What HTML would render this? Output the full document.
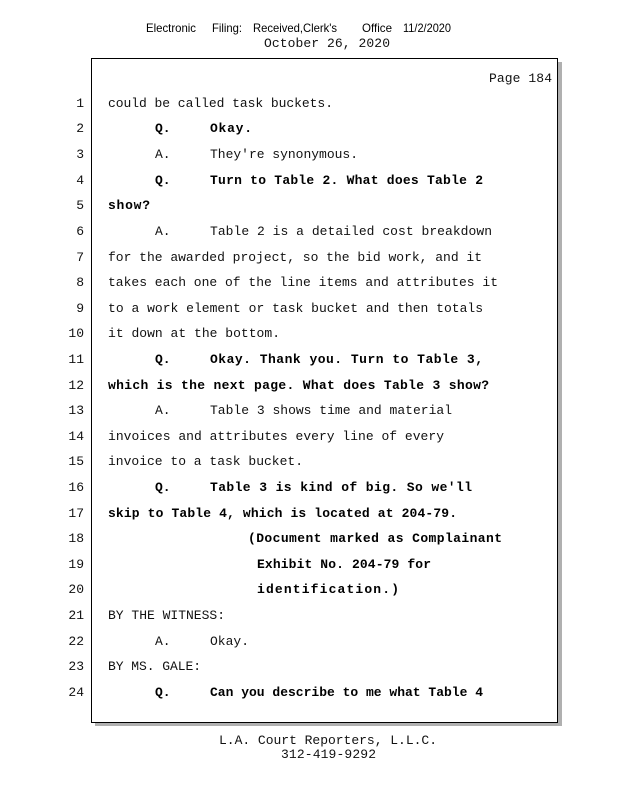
<!DOCTYPE html>
<html><head><meta charset="utf-8"><style>
html,body{margin:0;padding:0;background:#fff;}
body{width:618px;height:800px;position:relative;overflow:hidden;}
svg{position:absolute;left:0;top:0;}
</style></head><body>
<svg width="618" height="800" xmlns="http://www.w3.org/2000/svg">
<rect x="95" y="62" width="467" height="664" fill="#b0b0b0"/>
<rect x="91.5" y="58.5" width="466" height="664" fill="#fff" stroke="#000" stroke-width="1"/>
<g font-family="Liberation Sans, sans-serif" font-size="12" fill="#000">
<text x="146" y="32" textLength="50" lengthAdjust="spacingAndGlyphs">Electronic</text>
<text x="212" y="32" textLength="30" lengthAdjust="spacingAndGlyphs">Filing:</text>
<text x="253" y="32" textLength="84" lengthAdjust="spacingAndGlyphs">Received,Clerk's</text>
<text x="362" y="32" textLength="30" lengthAdjust="spacingAndGlyphs">Office</text>
<text x="403" y="32" textLength="48" lengthAdjust="spacingAndGlyphs">11/2/2020</text>
</g>
<g font-family="Liberation Mono, monospace" font-size="13" fill="#111">
<text x="264" y="47" textLength="126" lengthAdjust="spacing">October 26, 2020</text>
<text x="489" y="82" textLength="63" lengthAdjust="spacing">Page 184</text>
<text x="219" y="744" textLength="218" lengthAdjust="spacing">L.A. Court Reporters, L.L.C.</text>
<text x="281" y="758" textLength="95" lengthAdjust="spacing">312-419-9292</text>
</g>
<g font-family="Liberation Mono, monospace" font-size="13" fill="#111" text-anchor="end">
<text x="84" y="107">1</text><text x="84" y="132">2</text><text x="84" y="158">3</text><text x="84" y="184">4</text><text x="84" y="209">5</text><text x="84" y="235">6</text><text x="84" y="261">7</text><text x="84" y="286">8</text><text x="84" y="312">9</text><text x="84" y="337">10</text><text x="84" y="363">11</text><text x="84" y="389">12</text><text x="84" y="414">13</text><text x="84" y="440">14</text><text x="84" y="465">15</text><text x="84" y="491">16</text><text x="84" y="517">17</text><text x="84" y="542">18</text><text x="84" y="568">19</text><text x="84" y="593">20</text><text x="84" y="619">21</text><text x="84" y="645">22</text><text x="84" y="670">23</text><text x="84" y="696">24</text>
</g>
<g font-family="Liberation Mono, monospace" font-size="13" fill="#111">
<text x="108" y="107" textLength="225" lengthAdjust="spacing">could be called task buckets.</text>
<text x="155" y="158">A.</text>
<text x="210" y="158" textLength="148" lengthAdjust="spacing">They're synonymous.</text>
<text x="155" y="235">A.</text>
<text x="210" y="235" textLength="282" lengthAdjust="spacing">Table 2 is a detailed cost breakdown</text>
<text x="108" y="261" textLength="374" lengthAdjust="spacing">for the awarded project, so the bid work, and it</text>
<text x="108" y="286" textLength="390" lengthAdjust="spacing">takes each one of the line items and attributes it</text>
<text x="108" y="312" textLength="375" lengthAdjust="spacing">to a work element or task bucket and then totals</text>
<text x="108" y="337" textLength="172" lengthAdjust="spacing">it down at the bottom.</text>
<text x="155" y="414">A.</text>
<text x="210" y="414" textLength="242" lengthAdjust="spacing">Table 3 shows time and material</text>
<text x="108" y="440" textLength="336" lengthAdjust="spacing">invoices and attributes every line of every</text>
<text x="108" y="465" textLength="195" lengthAdjust="spacing">invoice to a task bucket.</text>
<text x="108" y="619" textLength="117" lengthAdjust="spacing">BY THE WITNESS:</text>
<text x="155" y="645">A.</text>
<text x="210" y="645" textLength="39" lengthAdjust="spacing">Okay.</text>
<text x="108" y="670" textLength="93" lengthAdjust="spacing">BY MS. GALE:</text>
</g>
<g font-family="Liberation Mono, monospace" font-size="13" font-weight="bold" fill="#000">
<text x="155" y="132">Q.</text>
<text x="210" y="132" textLength="42" lengthAdjust="spacing">Okay.</text>
<text x="155" y="184">Q.</text>
<text x="210" y="184" textLength="273" lengthAdjust="spacing">Turn to Table 2.  What does Table 2</text>
<text x="108" y="209" textLength="42" lengthAdjust="spacing">show?</text>
<text x="155" y="363">Q.</text>
<text x="210" y="363" textLength="273" lengthAdjust="spacing">Okay. Thank you.  Turn to Table 3,</text>
<text x="108" y="389" textLength="381" lengthAdjust="spacing">which is the next page.  What does Table 3 show?</text>
<text x="155" y="491">Q.</text>
<text x="210" y="491" textLength="262" lengthAdjust="spacing">Table 3 is kind of big.  So we'll</text>
<text x="108" y="517" textLength="349" lengthAdjust="spacing">skip to Table 4, which is located at 204-79.</text>
<text x="248" y="542" textLength="254" lengthAdjust="spacing">(Document marked as Complainant</text>
<text x="257" y="568" textLength="174" lengthAdjust="spacing">Exhibit No. 204-79 for</text>
<text x="257" y="593" textLength="142" lengthAdjust="spacing">identification.)</text>
<text x="155" y="696">Q.</text>
<text x="210" y="696" textLength="273" lengthAdjust="spacing">Can you describe to me what Table 4</text>
</g>
</svg>
</body></html>
